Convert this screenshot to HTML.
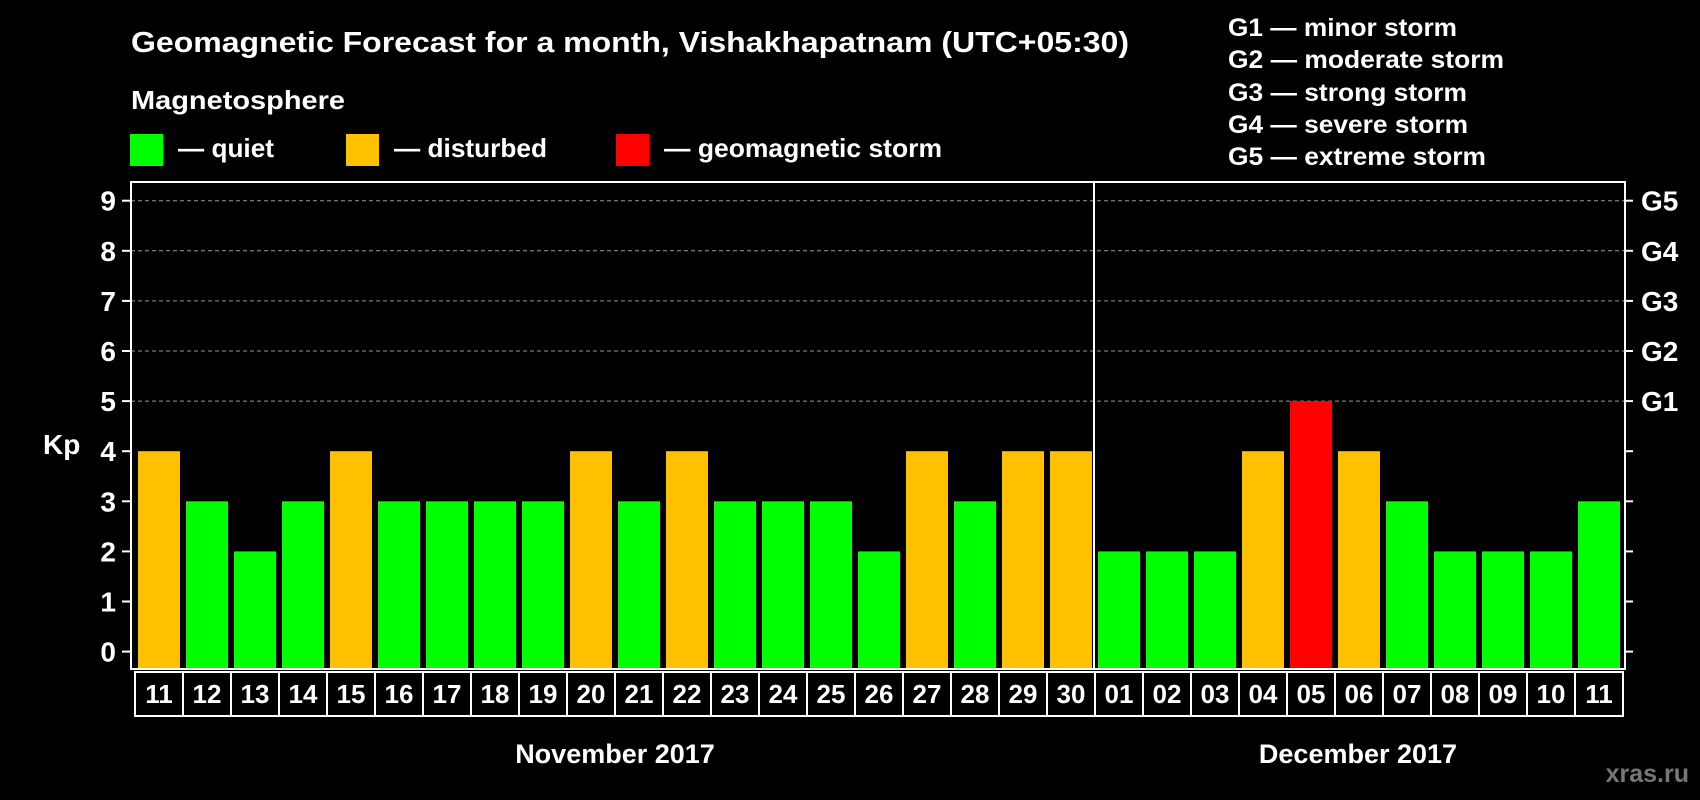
<!DOCTYPE html>
<html><head><meta charset="utf-8"><style>
html,body{margin:0;padding:0;background:#000;}
svg{display:block;font-family:"Liberation Sans",Arial,sans-serif;font-weight:bold;}
</style></head><body>
<svg id="chart" width="1700" height="800" viewBox="0 0 1700 800" xmlns="http://www.w3.org/2000/svg">
<rect x="0" y="0" width="1700" height="800" fill="#000"/>
<text x="131" y="52" fill="#fff" font-size="29" textLength="998" lengthAdjust="spacingAndGlyphs">Geomagnetic Forecast for a month, Vishakhapatnam (UTC+05:30)</text>
<text x="131" y="109" fill="#fff" font-size="26" textLength="214" lengthAdjust="spacingAndGlyphs">Magnetosphere</text>
<rect x="130" y="134" width="33" height="32" fill="#00ff00"/>
<text x="178" y="157" fill="#fff" font-size="26" textLength="96" lengthAdjust="spacingAndGlyphs">— quiet</text>
<rect x="346" y="134" width="33" height="32" fill="#ffc000"/>
<text x="394" y="157" fill="#fff" font-size="26" textLength="153" lengthAdjust="spacingAndGlyphs">— disturbed</text>
<rect x="616" y="134" width="33" height="32" fill="#ff0000"/>
<text x="664" y="157" fill="#fff" font-size="26" textLength="278" lengthAdjust="spacingAndGlyphs">— geomagnetic storm</text>
<g fill="#fff" font-size="25">
<text x="1228" y="36" textLength="229" lengthAdjust="spacingAndGlyphs">G1 — minor storm</text>
<text x="1228" y="68" textLength="276" lengthAdjust="spacingAndGlyphs">G2 — moderate storm</text>
<text x="1228" y="101" textLength="239" lengthAdjust="spacingAndGlyphs">G3 — strong storm</text>
<text x="1228" y="133" textLength="240" lengthAdjust="spacingAndGlyphs">G4 — severe storm</text>
<text x="1228" y="165" textLength="258" lengthAdjust="spacingAndGlyphs">G5 — extreme storm</text>
</g>
<g id="plot"></g>
<text x="615" y="763" fill="#fff" font-size="27" text-anchor="middle">November 2017</text>
<text x="1358" y="763" fill="#fff" font-size="27" text-anchor="middle">December 2017</text>
<text x="1689" y="782" fill="#777" font-size="25" text-anchor="end">xras.ru</text>
</svg>
<script>
const days = ["11","12","13","14","15","16","17","18","19","20","21","22","23","24","25","26","27","28","29","30","01","02","03","04","05","06","07","08","09","10","11"];
const kpValues = [4,3,2,3,4,3,3,3,3,4,3,4,3,3,3,2,4,3,4,4,2,2,2,4,5,4,3,2,2,2,3];
const yTicks = [0,1,2,3,4,5,6,7,8,9];
const gLabels = ["G1","G2","G3","G4","G5"];
const gLevels = [5,6,7,8,9];

const NS="http://www.w3.org/2000/svg";
const g=document.getElementById('plot');
const L=131,R=1625,T=182,B=669,Y0=651.6,UNIT=50.1;
const X0=135,STEP=48,BW=42;
const y=v=>Y0-v*UNIT;
const x=i=>X0+i*STEP;
function mk(t,a){const e=document.createElementNS(NS,t);for(const k in a)e.setAttribute(k,a[k]);g.appendChild(e);return e;}
function color(v){return v>=5?"#ff0000":(v>=4?"#ffc000":"#00ff00");}

gLevels.forEach(v=>{
  const ln=mk('line',{x1:L,x2:R,y1:y(v),y2:y(v),stroke:"#999","stroke-width":1,"stroke-dasharray":"4,3"});
  
  
});
kpValues.forEach((v,i)=>{
  const r=mk('rect',{x:x(i)+3,y:y(v),width:BW,height:B-y(v),fill:color(v)});
  
  
});
const box=mk('rect',{x:L,y:T,width:R-L,height:B-T,fill:"none",stroke:"#fff","stroke-width":2});


const divIdx=days.indexOf("01");
const dv=mk('line',{x1:x(divIdx)-1,x2:x(divIdx)-1,y1:T,y2:B,stroke:"#fff","stroke-width":2});


yTicks.forEach(v=>{
  const t=mk('line',{x1:L-9,x2:L,y1:y(v),y2:y(v),stroke:"#fff","stroke-width":2});
  
  
  const t2=mk('line',{x1:R,x2:R+8,y1:y(v),y2:y(v),stroke:"#fff","stroke-width":2});
  
  
  const tx=mk('text',{x:116,y:y(v)+10,fill:"#fff","font-size":28,"text-anchor":"end"});
  tx.textContent=v;
  
  
});
gLabels.forEach((s,i)=>{
  const tx=mk('text',{x:1641,y:y(gLevels[i])+10,fill:"#fff","font-size":28});
  tx.textContent=s;
  
  
});
const kp=mk('text',{x:43,y:454,fill:"#fff","font-size":28});
kp.textContent="Kp";


const rowT=672,rowB=716;
const row=mk('rect',{x:X0,y:rowT,width:days.length*STEP,height:rowB-rowT,fill:"none",stroke:"#fff","stroke-width":2});


days.forEach((d,i)=>{
  if(i>0){
    const s=mk('line',{x1:x(i),x2:x(i),y1:rowT,y2:rowB,stroke:"#fff","stroke-width":2});
    
    
  }
  const tx=mk('text',{x:x(i)+STEP/2,y:703,fill:"#fff","font-size":26,"text-anchor":"middle"});
  tx.textContent=d;
  
  
});
</script>
</body></html>
